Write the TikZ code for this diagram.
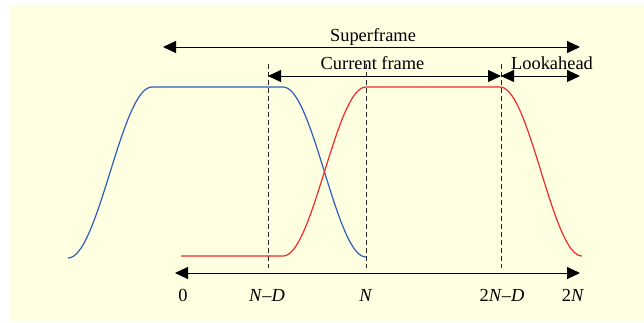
\documentclass[tikz,border=0pt]{standalone}
\usepackage{fontspec}
\setmainfont{Liberation Serif}
\usepackage{xcolor}
\usepackage{tikz}
\usetikzlibrary{arrows.meta}
\definecolor{paper}{HTML}{FEFEE1}
\definecolor{winblue}{HTML}{2F5FB6}
\definecolor{winred}{HTML}{F22A2A}
\tikzset{
  span/.style={{Triangle[length=13pt,width=12pt]}-{Triangle[length=13pt,width=12pt]},line width=1pt},
  guide/.style={line width=0.9pt,dash pattern=on 5pt off 3pt,black!85},
  lbl/.style={anchor=base,inner sep=0pt,font=\fontsize{18.4}{22}\selectfont},
  win/.style={line width=1.2pt},
}

\begin{document}
\begin{tikzpicture}[x=1pt,y=-1pt]
  \useasboundingbox (0,0) rectangle (644,322);
  \fill[paper] (10,5) rectangle (644,322);
  % span ends
  \coordinate (sfl) at (163,47); \coordinate (sfr) at (580,47);
  \coordinate (cfl) at (268,76); \coordinate (cfr) at (501,76);
  \coordinate (lar) at (580,76);
  \coordinate (axl) at (175,273); \coordinate (axr) at (580,273);
  % guides
  \coordinate (g1t) at (268,64); \coordinate (g1b) at (268,268);
  \coordinate (g2t) at (366,64); \coordinate (g2b) at (366,268);
  \coordinate (g3t) at (501,64); \coordinate (g3b) at (501,268);
  \draw[guide] (g1t) -- (g1b); \draw[guide] (g2t) -- (g2b); \draw[guide] (g3t) -- (g3b);
  % windows
  \draw[win,winblue] plot[domain=0:1,samples=40] ({68+84*\x},{258-171*(1-cos(180*\x))/2})
    -- (283,87) -- plot[domain=0:1,samples=40] ({283+83*\x},{87+170*(1-cos(180*\x))/2});
  \draw[win,winred] (181,256) -- (283,256)
    -- plot[domain=0:1,samples=40] ({283+83*\x},{256-169*(1-cos(180*\x))/2})
    -- (500,87) -- plot[domain=0:1,samples=40] ({500+82*\x},{87+169*(1-cos(180*\x))/2});
  % spans
  \draw[span] (sfl) -- (sfr);
  \draw[span] (cfl) -- (cfr);
  \draw[span] (cfr) -- (lar);
  \draw[span] (axl) -- (axr);
  \node[lbl] (superframe) at (373,41) {Superframe};
  \node[lbl] (current) at (372.5,69) {Current frame};
  \node[lbl] (lookahead) at (552,69) {Lookahead};
  \node[lbl] (t0) at (183,301) {0};
  \node[lbl] (tnd) at (267,301) {\textit{N}–\textit{D}};
  \node[lbl] (tn) at (366,301) {\textit{N}};
  \node[lbl] (t2nd) at (502,301) {2\textit{N}–\textit{D}};
  \node[lbl] (t2n) at (573,301) {2\textit{N}};
\end{tikzpicture}
\end{document}
